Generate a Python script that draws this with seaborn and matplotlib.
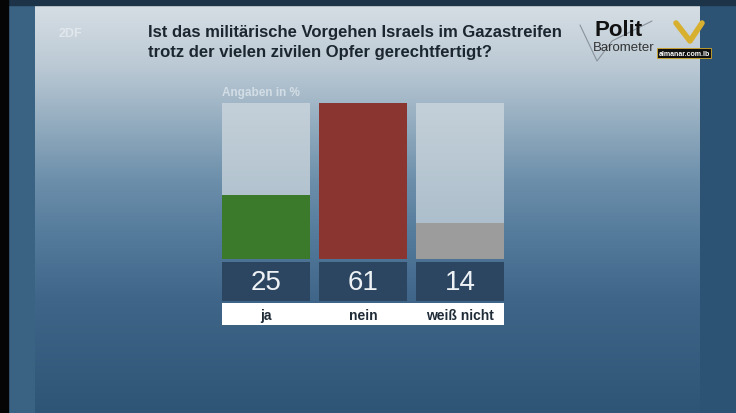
"""
Politbarometer chart: Ist das militärische Vorgehen Israels im Gazastreifen
trotz der vielen zivilen Opfer gerechtfertigt?
"""

import matplotlib
matplotlib.use("Agg")
import matplotlib.pyplot as plt
from matplotlib.colors import to_rgb
import numpy as np
import seaborn as sns

# data
categories = ["ja", "nein", "weiß nicht"]
values = [25, 61, 14]
bar_colors = ["#3a7a2a", "#8b3530", "#9c9c9c"]
title_lines = [
    "Ist das militärische Vorgehen Israels im Gazastreifen",
    "trotz der vielen zivilen Opfer gerechtfertigt?",
]
unit_label = "Angaben in %"

W, H = 736, 414

sns.set_theme(style="white")
plt.rcParams["font.family"] = ["Liberation Sans", "DejaVu Sans"]

fig = plt.figure(figsize=(W / 100, H / 100), dpi=100)
fig.patch.set_facecolor("#2f5577")


def px_axes(x0, y0, x1, y1):
    return fig.add_axes([x0 / W, 1 - y1 / H, (x1 - x0) / W, (y1 - y0) / H])


def vgrad(stops, n):
    ys = np.linspace(0, 1, n)
    g = np.zeros((n, 1, 3))
    for c in range(3):
        g[:, 0, c] = np.interp(ys, [s[0] for s in stops], [to_rgb(s[1])[c] for s in stops])
    return g


# background: frame + gradient panel
bg = px_axes(0, 0, W, H)
bg.set_xlim(0, W)
bg.set_ylim(H, 0)
bg.axis("off")
panel_stops = [(0, "#d6dee4"), (60 / H, "#bccad5"), (120 / H, "#93acbf"),
               (180 / H, "#6b8eaa"), (240 / H, "#52799a"), (300 / H, "#3f6688"),
               (1, "#2e5476")]
bg.imshow(vgrad(panel_stops, H), extent=(35, 700, H, 6), aspect="auto", zorder=1)
bg.axvspan(8, 35, color="#3a6283", zorder=0)
bg.axvspan(0, 8, color="#050505", zorder=3)
bg.axhspan(0, 6, color="#1d3448", zorder=2)
bg.axvspan(700, W, color="#2c5274", zorder=0)

# ZDF logo (faint)
bg.text(70, 34, "2DF", color="white", alpha=0.45, fontsize=9, fontweight="bold",
        ha="center", va="center", zorder=4)

# title
for i, line in enumerate(title_lines):
    bg.text(148, 33 + i * 19, line, color="#1b2630", fontsize=12, fontweight="bold",
            ha="left", va="center", zorder=4)

# Politbarometer logo
bg.plot([580, 597, 612, 652], [26, 62, 42, 22], color="#8a939b", lw=0.8, zorder=4)
bg.text(594, 31, "Polit", color="#111111", fontsize=16, fontweight="bold",
        ha="left", va="center", zorder=5)
bg.text(593, 48, "Barometer", color="#333333", fontsize=9.5,
        ha="left", va="center", zorder=5)
bg.plot([676, 690, 702], [24, 42, 24], color="#d8b030", lw=4, zorder=5,
        solid_capstyle="round")
bg.text(684, 54, "almanar.com.lb", color="white", fontsize=5, fontweight="bold",
        ha="center", va="center", zorder=6,
        bbox=dict(boxstyle="square,pad=0.15", fc="#111111", ec="#d4aa2a", lw=0.6))

# unit label
bg.text(222, 93, unit_label, color="#d3dde5", fontsize=8.5, fontweight="bold",
        ha="left", va="center", zorder=4)

bar_w = 88 / 97
xlim = (-bar_w / 2, len(categories) - 1 + bar_w / 2)

# bars
ax = px_axes(222, 104, 504, 260)
ax.patch.set_alpha(0)
sns.barplot(x=categories, y=[max(values)] * len(categories), color="#b7c7d3",
            saturation=1, width=bar_w, ax=ax, zorder=1, linewidth=0)
ax.set_xlim(*xlim)
ax.set_ylim(0, max(values))
col_grad = vgrad([(0, "#c4d0d9"), (1, "#a6bac8")], 64)
for p in list(ax.patches):
    im = ax.imshow(col_grad, extent=(*xlim, 0, max(values)), aspect="auto", zorder=1.5)
    im.set_clip_path(p)
sns.barplot(x=categories, y=values, hue=categories, palette=bar_colors,
            saturation=1, width=bar_w, ax=ax, legend=False, zorder=2, linewidth=0)
ax.set_xlim(*xlim)
ax.set_ylim(0, max(values))
ax.axis("off")

# number boxes
nb = px_axes(222, 263, 504, 302)
nb.patch.set_alpha(0)
sns.barplot(x=categories, y=[1] * len(categories), color="#2c4561",
            saturation=1, width=bar_w, ax=nb, linewidth=0)
nb.set_xlim(*xlim)
nb.set_ylim(0, 1)
nb.axis("off")
for i, v in enumerate(values):
    nb.text(i, 0.5, str(v), color="#eef2f5", fontsize=20, ha="center", va="center")

# category labels
lb = px_axes(222, 304, 504, 326)
lb.set_facecolor("white")
lb.set_xlim(*xlim)
lb.set_ylim(0, 1)
lb.set_xticks([])
lb.set_yticks([])
for s in lb.spines.values():
    s.set_visible(False)
for i, c in enumerate(categories):
    lb.text(i, 0.45, c, color="#1f2b37", fontsize=10, fontweight="bold",
            ha="center", va="center")

fig.savefig("out.png", dpi=100, facecolor=fig.get_facecolor())
